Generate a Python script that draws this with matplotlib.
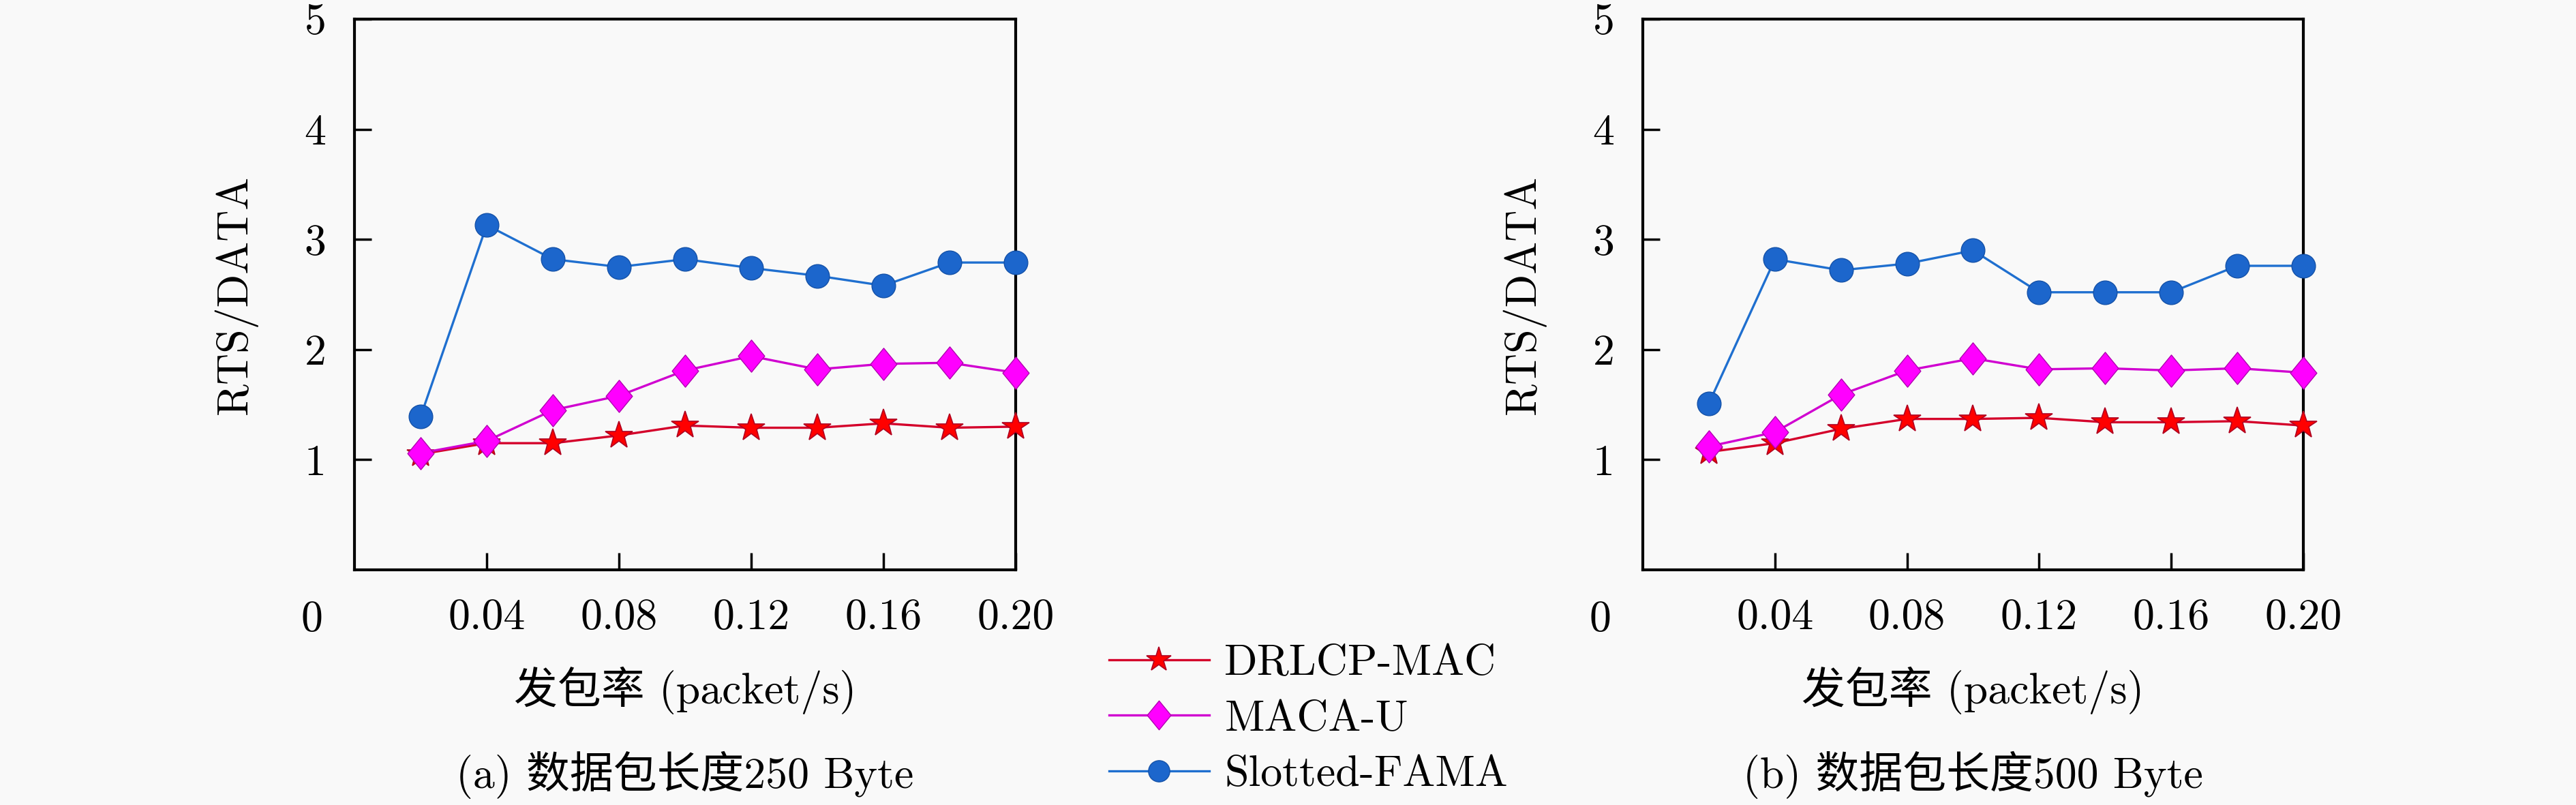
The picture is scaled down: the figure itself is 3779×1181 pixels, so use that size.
import matplotlib
matplotlib.use("Agg")
import matplotlib.pyplot as plt
from matplotlib.path import Path
import numpy as np

plt.rcParams['font.family'] = ['cmr10', 'Noto Sans CJK SC']
plt.rcParams['axes.unicode_minus'] = False
plt.rcParams['mathtext.fontset'] = 'cm'

# ---------------- data ----------------
rates = [0.02, 0.04, 0.06, 0.08, 0.10, 0.12, 0.14, 0.16, 0.18, 0.20]
series_names = ["DRLCP-MAC", "MACA-U", "Slotted-FAMA"]

drlcp_250 = [1.05, 1.15, 1.15, 1.22, 1.31, 1.29, 1.29, 1.33, 1.29, 1.30]
macau_250 = [1.06, 1.17, 1.45, 1.58, 1.81, 1.94, 1.82, 1.87, 1.88, 1.79]
fama_250 = [1.39, 3.13, 2.82, 2.75, 2.82, 2.74, 2.67, 2.58, 2.79, 2.79]

drlcp_500 = [1.07, 1.15, 1.28, 1.37, 1.37, 1.38, 1.34, 1.34, 1.35, 1.31]
macau_500 = [1.12, 1.25, 1.59, 1.81, 1.92, 1.82, 1.83, 1.81, 1.83, 1.79]
fama_500 = [1.51, 2.82, 2.72, 2.78, 2.90, 2.52, 2.52, 2.52, 2.76, 2.76]

xticks = [0.04, 0.08, 0.12, 0.16, 0.20]
xtick_labels = ["0.04", "0.08", "0.12", "0.16", "0.20"]
yticks = [1, 2, 3, 4, 5]
ytick_labels = ["1", "2", "3", "4", "5"]

xlabel = "发包率 (packet/s)"
ylabel = "RTS/DATA"
captions = ["(a) 数据包长度250 Byte", "(b) 数据包长度500 Byte"]

# ---------------- style ----------------
W, H = 3780, 1181
DPI = 100
bg = '#f9f9f9'
FS = 46

diamond = Path([(0, 1), (0.82, 0), (0, -1), (-0.82, 0), (0, 1)],
               [Path.MOVETO, Path.LINETO, Path.LINETO, Path.LINETO, Path.CLOSEPOLY])

styles = [
    dict(color='#d4002a', marker='*', markersize=30, markerfacecolor='#ff0000',
         markeredgecolor='#b00020', markeredgewidth=1.2, linewidth=2.4),
    dict(color='#d000d0', marker=diamond, markersize=34, markerfacecolor='#ff00ff',
         markeredgecolor='#b000b0', markeredgewidth=1.0, linewidth=2.4),
    dict(color='#1f6fcf', marker='o', markersize=25, markerfacecolor='#1c66cc',
         markeredgecolor='#1552a8', markeredgewidth=1.0, linewidth=2.4),
]

fig = plt.figure(figsize=(W / DPI, H / DPI), dpi=DPI, facecolor=bg)

axes_px = [(520, 1490), (2410, 3379)]
top_px, bot_px = 28, 836
data_sets = [(drlcp_250, macau_250, fama_250), (drlcp_500, macau_500, fama_500)]

handles = []
for i, ((l, r), ds) in enumerate(zip(axes_px, data_sets)):
    ax = fig.add_axes([l / W, (H - bot_px) / H, (r - l) / W, (bot_px - top_px) / H])
    ax.set_facecolor(bg)
    hs = []
    for name, ys, st in zip(series_names, ds, styles):
        h, = ax.plot(rates, ys, label=name, zorder=3, clip_on=False, **st)
        hs.append(h)
    if i == 0:
        handles = hs
    ax.set_xlim(0, 0.20)
    ax.set_ylim(0, 5)
    ax.set_xticks(xticks)
    ax.set_xticklabels(xtick_labels)
    ax.set_yticks(yticks)
    ax.set_yticklabels(ytick_labels)
    ax.tick_params(direction='in', length=18, width=2.5, labelsize=FS, pad=30,
                   top=False, right=False)
    for sp in ax.spines.values():
        sp.set_linewidth(3)
    ax.annotate("0", xy=(0, 0), xycoords='axes fraction', xytext=(-45, -53),
                textcoords='offset points', ha='center', va='center', fontsize=FS)
    ax.set_ylabel(ylabel, fontsize=FS)
    ax.yaxis.set_label_coords(-142 / (r - l), 0.5)
    cx = (l + r) / 2 / W
    fig.text(cx, (H - 1013) / H, xlabel, ha='center', va='center', fontsize=FS)
    fig.text(cx, (H - 1137) / H, captions[i], ha='center', va='center', fontsize=FS)

fig.legend(handles=handles, labels=series_names, loc='upper left',
           bbox_to_anchor=(1627 / W, (H - 945) / H), frameon=False, fontsize=FS,
           borderpad=0, borderaxespad=0, handlelength=2.3, handletextpad=0.35,
           labelspacing=0.37, markerscale=0.9)

fig.savefig("out.png", dpi=DPI, facecolor=bg)
